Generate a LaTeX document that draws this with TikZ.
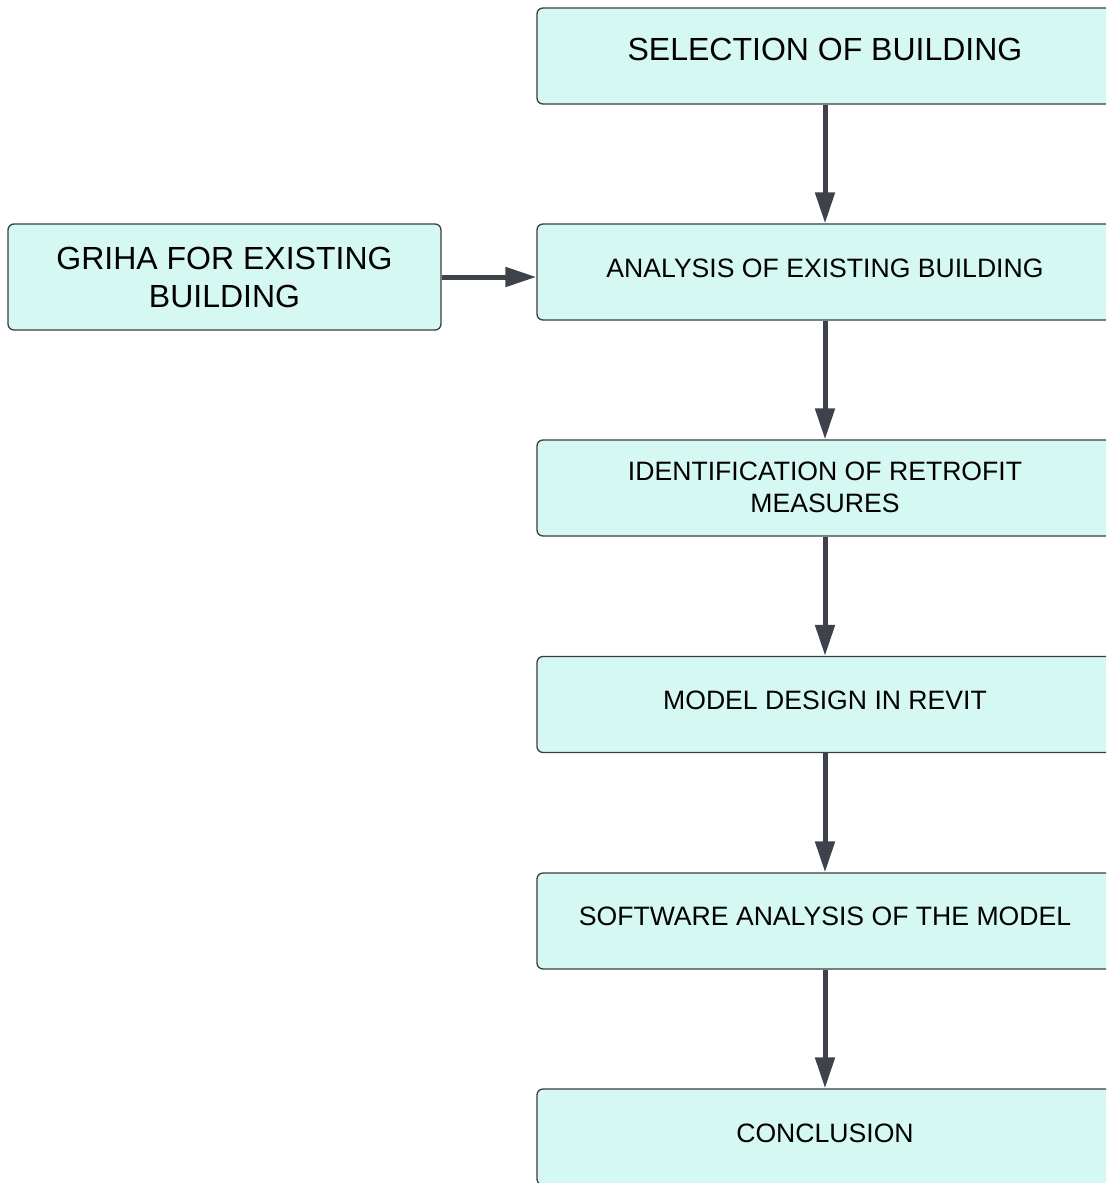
\documentclass[tikz,border=0pt]{standalone}
\usepackage{fontspec}
\setmainfont{Liberation Sans}
\usetikzlibrary{arrows.meta}
\definecolor{boxfill}{HTML}{D6F8F2}
\definecolor{boxline}{HTML}{3A3D42}
\definecolor{arrowcol}{HTML}{3D424B}
\begin{document}
\begin{tikzpicture}[x=1pt,y=-1pt,
  box/.style={draw=boxline, line width=1.3pt, fill=boxfill, rounded corners=6pt,
    minimum width=576pt, minimum height=96pt, inner sep=0pt},
  txt/.style={inner sep=0pt, align=center, font=\fontsize{26.6}{32}\selectfont},
  bigtxt/.style={txt, font=\fontsize{32}{38}\selectfont},
  flow/.style={draw=arrowcol, line width=5pt, -{Triangle[width=19pt,length=31pt]}}]
\useasboundingbox (0,0) rectangle (1106,1183);
\clip (0,0) rectangle (1106,1183);
\node[box] (sel) at (825,56) {};
\node[box] (ana) at (825,272) {};
\node[box] (idf) at (825,488) {};
\node[box] (mod) at (825,704.5) {};
\node[box] (sw) at (825,921) {};
\node[box] (con) at (825,1137) {};
\node[box, minimum width=433pt, minimum height=106pt] (gri) at (224.5,277) {};
\node[bigtxt] (selt) at (825,49) {SELECTION OF BUILDING};
\node[txt] (anat) at (825,268) {ANALYSIS OF EXISTING BUILDING};
\node[txt] (idft) at (825,487.5) {IDENTIFICATION OF RETROFIT\\MEASURES};
\node[txt] (modt) at (825,700) {MODEL DESIGN IN REVIT};
\node[txt] (swt) at (825,916.5) {SOFTWARE ANALYSIS OF THE MODEL};
\node[txt] (cont) at (825,1133) {CONCLUSION};
\node[bigtxt] (grit) at (224.5,277) {GRIHA FOR EXISTING\\BUILDING};
\draw[flow] (sel.south) -- (ana.north);
\draw[flow] (ana.south) -- (idf.north);
\draw[flow] (idf.south) -- (mod.north);
\draw[flow] (mod.south) -- (sw.north);
\draw[flow] (sw.south) -- (con.north);
\draw[flow] (gri.east) -- (gri.east -| ana.west);
\end{tikzpicture}
\end{document}
